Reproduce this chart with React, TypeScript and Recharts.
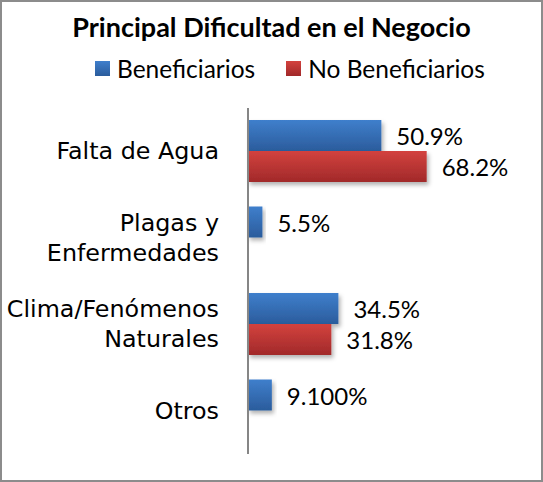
import React from 'react';
import { BarChart, Bar, XAxis, YAxis, LabelList } from 'recharts';

const categories = ['Falta de Agua', 'Plagas y\nEnfermedades', 'Clima/Fenómenos\nNaturales', 'Otros'];
const beneficiarios = [50.9, 5.5, 34.5, 9.1];
const noBeneficiarios: (number | null)[] = [68.2, null, 31.8, null];
const benLabels = ['50.9%', '5.5%', '34.5%', '9.100%'];
const noBenLabels = ['68.2%', '', '31.8%', ''];

const data = categories.map((name, i) => ({
  name,
  ben: beneficiarios[i],
  noBen: noBeneficiarios[i],
  benLabel: benLabels[i],
  noBenLabel: noBenLabels[i],
}));

const labelFont = 'Lato, "Open Sans", sans-serif';
const tickFont = '"DejaVu Sans", sans-serif';

const CategoryTick = (props: any) => {
  const { x, y, payload } = props;
  const lines = String(payload.value).split('\n');
  const start = -((lines.length - 1) * 30) / 2;
  return (
    <g>
      {lines.map((line, i) => (
        <text
          key={i}
          x={x - 21}
          y={y + start + i * 30}
          textAnchor="end"
          dominantBaseline="central"
          fontFamily={tickFont}
          fontSize={23.8}
          fill="#000"
        >
          {line}
        </text>
      ))}
    </g>
  );
};

const ValueLabel = (props: any) => {
  const { x, y, width, height, value } = props;
  if (!value) return null;
  return (
    <text
      x={x + width + 15}
      y={y + height / 2}
      dominantBaseline="central"
      fontFamily={labelFont}
      fontSize={24}
      fill="#000"
    >
      {value}
    </text>
  );
};

const Swatch = ({ color }: { color: 'blue' | 'red' }) => (
  <span
    style={{
      display: 'inline-block',
      width: 15,
      height: 15,
      marginRight: 7,
      background:
        color === 'blue'
          ? 'linear-gradient(#3f7fcc, #2b5c9c)'
          : 'linear-gradient(#d3423e, #a1292a)',
    }}
  />
);

export default function App() {
  return (
    <div style={{ position: 'absolute', left: 0, top: 0, width: 543, height: 482, background: '#fff' }}>
      <BarChart
        width={543}
        height={482}
        data={data}
        layout="vertical"
        margin={{ top: 108, right: 33, bottom: 28, left: 0 }}
        barGap={0}
        barSize={31}
        style={{ position: 'absolute', left: 0, top: 0 }}
      >
        <defs>
          <linearGradient id="gradBlue" x1="0" y1="0" x2="0" y2="1">
            <stop offset="0%" stopColor="#3f7fcc" />
            <stop offset="100%" stopColor="#2b5c9c" />
          </linearGradient>
          <linearGradient id="gradRed" x1="0" y1="0" x2="0" y2="1">
            <stop offset="0%" stopColor="#d3423e" />
            <stop offset="100%" stopColor="#a1292a" />
          </linearGradient>
          <filter id="barShadow" x="-10%" y="-20%" width="130%" height="160%">
            <feDropShadow dx="2" dy="3" stdDeviation="2" floodColor="#000" floodOpacity="0.3" />
          </filter>
        </defs>
        <XAxis type="number" domain={[0, 100]} hide />
        <YAxis
          type="category"
          dataKey="name"
          width={248}
          axisLine={{ stroke: '#868686', strokeWidth: 2 }}
          tickLine={false}
          tick={<CategoryTick />}
          interval={0}
        />
        <Bar dataKey="ben" fill="url(#gradBlue)" filter="url(#barShadow)" isAnimationActive={false}>
          <LabelList dataKey="benLabel" content={<ValueLabel />} />
        </Bar>
        <Bar dataKey="noBen" fill="url(#gradRed)" filter="url(#barShadow)" isAnimationActive={false}>
          <LabelList dataKey="noBenLabel" content={<ValueLabel />} />
        </Bar>
      </BarChart>
      <div
        style={{
          position: 'absolute',
          left: 0,
          top: 10,
          width: 543,
          textAlign: 'center',
          fontFamily: labelFont,
          fontWeight: 'bold',
          fontSize: 27,
          color: '#000',
        }}
      >
        Principal Dificultad en el Negocio
      </div>
      <div
        style={{
          position: 'absolute',
          left: 95,
          top: 54,
          display: 'flex',
          alignItems: 'center',
          fontFamily: labelFont,
          fontSize: 24.5,
          color: '#000',
          whiteSpace: 'nowrap',
        }}
      >
        <Swatch color="blue" />
        <span style={{ marginRight: 31 }}>Beneficiarios</span>
        <Swatch color="red" />
        <span>No Beneficiarios</span>
      </div>
      <div
        style={{
          position: 'absolute',
          left: 0,
          top: 0,
          width: 543,
          height: 482,
          boxSizing: 'border-box',
          border: '2px solid #8c8c8c',
          pointerEvents: 'none',
        }}
      />
    </div>
  );
}
